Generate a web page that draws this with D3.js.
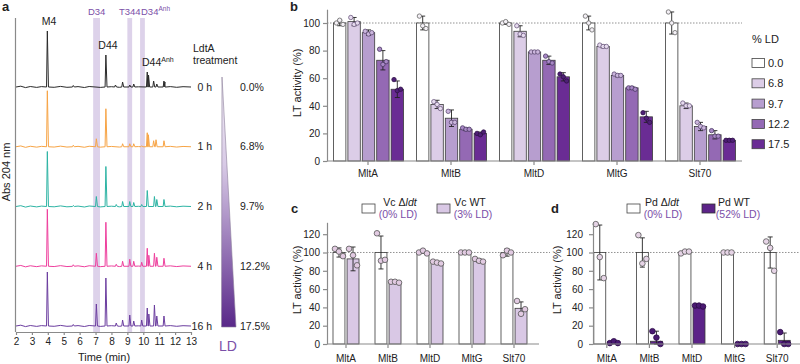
<!DOCTYPE html>
<html>
<head>
<meta charset="utf-8">
<script src="https://cdn.jsdelivr.net/npm/d3@7"></script>
<style>
body { margin: 0; background: #fff; }
svg { font-family: "Liberation Sans", Arial, sans-serif; }
</style>
</head>
<body>
<svg id="fig" width="800" height="364"></svg>
<script>
// ---------- panel a : chromatograms ----------
const traceNames = ['0 h', '1 h', '2 h', '4 h', '16 h'];
const traceLD = ['0.0%', '6.8%', '9.7%', '12.2%', '17.5%'];
const traceColors = ['#2a2a2a', '#f7a445', '#2db4a4', '#ee3f9d', '#6b3d9f'];
const timeTicks = [2, 3, 4, 5, 6, 7, 8, 9, 10, 11, 12, 13];
// peaks per trace : [retention time (min), height]
const peaks0h = [[3.97, 56], [5.6, 1.5], [7.65, 32], [8.25, 2], [8.7, 5], [9.15, 2], [9.4, 3], [10.25, 15], [10.33, 12], [10.65, 6], [10.85, 3], [11.3, 6], [11.36, 5]];
const peaks1h = [[3.97, 56], [5.6, 1.5], [7.05, 8], [7.65, 38], [8.7, 3], [9.15, 3], [9.4, 3], [9.9, 1], [10.25, 14], [10.32, 12], [10.65, 6], [10.8, 7], [11.3, 6]];
const peaks2h = [[3.97, 55], [5.6, 1], [7.05, 10], [7.65, 40], [8.3, 2], [8.7, 5], [9.15, 5], [9.4, 4], [9.9, 2], [10.25, 16], [10.7, 10], [10.85, 7], [11.3, 7]];
const peaks4h = [[3.97, 57], [5.6, 1.5], [7.05, 13], [7.65, 44], [8.3, 2], [8.7, 5], [9.15, 7], [9.4, 5], [9.9, 4], [10.25, 18], [10.35, 11], [10.7, 13], [10.85, 9], [11.3, 8]];
const peaks16h = [[3.97, 54], [5.6, 1.5], [7.05, 22], [7.65, 48], [8.3, 3], [8.7, 6], [9.15, 11], [9.4, 5], [9.9, 6], [10.25, 18], [10.35, 12], [10.7, 21], [10.85, 10], [11.3, 10]];
const tracePeaks = [peaks0h, peaks1h, peaks2h, peaks4h, peaks16h];
const baselineNoise = [[2, 0], [2.3, 0.8], [2.6, -0.6], [2.9, 0.5], [3.3, -0.4], [3.6, 0.4], [4.4, -0.3], [4.8, 0.6], [5.2, -0.3], [5.9, 0.4], [6.3, -0.5], [6.6, 0.5], [7.3, -0.4], [8.0, 0.3], [8.5, -0.3], [9.7, 0.2], [11.7, 0.4], [12.1, -0.3], [12.5, 0.3], [13, 0]];
const bandNames = ['D34', 'T344', 'D34'];
const bandRanges = [[6.85, 7.28], [9.0, 9.3], [9.8, 10.1]];

// ---------- panel b ----------
const enzymes = ['MltA', 'MltB', 'MltD', 'MltG', 'Slt70'];
const ldLevels = ['0.0', '6.8', '9.7', '12.2', '17.5'];
const ldColors = ['#ffffff', '#dccde7', '#b79ecf', '#9469b4', '#6a2c94'];
const ltMeans = [[100, 101, 93, 73, 52], [100, 41, 31, 23, 20], [100, 94, 79, 73, 61], [100, 83, 62, 53, 32], [100, 40, 25, 19, 15]];
const ltSD = [[2, 3, 2, 7, 6], [5, 3, 6, 1, 1], [1, 4, 1, 3, 3], [5, 1, 1, 1, 4], [8, 2, 3, 3, 1]];
const ltReps = [
	[[100, 102, 99], [104, 99, 100], [94, 92, 93], [81, 70, 72], [59, 51, 52]],
	[[105, 98, 96], [43, 41, 38], [36, 28, 28], [24, 23, 23], [20, 19, 21]],
	[[100, 101, 99], [98, 92, 91], [79, 79, 79], [76, 72, 71], [63, 61, 58]],
	[[105, 100, 95], [84, 83, 83], [63, 62, 62], [53, 53, 52], [35, 31, 28]],
	[[108, 100, 93], [42, 40, 40], [28, 25, 24], [22, 18, 18], [15, 15, 15]]
];

// ---------- panel c ----------
const vcSeries = ['Vc Δldt', 'Vc WT'];
const vcMeans = [[100, 93], [100, 68], [100, 89], [100, 91], [100, 39]];
const vcSD = [[5, 13], [18, 1], [1, 1], [1, 2], [4, 7]];
const vcReps = [
	[[104, 101, 96], [104, 97, 86]], [[121, 91, 92], [68, 68, 67]], [[100, 102, 99], [90, 89, 88]],
	[[100, 100, 100], [93, 91, 90]], [[97, 102, 100], [47, 33, 38]]
];

// ---------- panel d ----------
const pdSeries = ['Pd Δldt', 'Pd WT'];
const pdMeans = [[100, 2], [100, 3], [100, 41], [100, 0], [100, 4]];
const pdSD = [[30, 1], [16, 11], [1, 1], [0, 0], [17, 8]];
const pdReps = [
	[[131, 95, 72], [1, 3, 1]], [[119, 88, 93], [14, 7, 0]], [[99, 101, 101], [42, 42, 41]],
	[[100, 100, 100], [0, 0, 0]], [[112, 105, 80], [13, 0, 0]]
];
const yTicks = [0, 20, 40, 60, 80, 100];
const yTicksCD = [0, 20, 40, 60, 80, 100, 120];

const svg = d3.select('#fig');
const axisGray = '#8a8a8a';
const purpleText = '#7b4fa8';

function styleAxis(g) {
	g.selectAll('path, line').attr('stroke', axisGray).attr('stroke-width', 1.2);
	g.selectAll('text').attr('fill', '#222').attr('font-size', 10).attr('font-family', '"Liberation Sans", Arial, sans-serif');
}

function label(x, y, txt, opts = {}) {
	return svg.append('text').attr('x', x).attr('y', y).text(txt)
		.attr('font-size', opts.size || 10.5).attr('fill', opts.fill || '#222')
		.attr('text-anchor', opts.anchor || 'start').attr('font-weight', opts.weight || 'normal');
}

// ================= panel a =================
const xA = d3.scaleLinear().domain([2, 13]).range([16, 191]);
const baseA = d3.scalePoint().domain(traceNames).range([87, 326]);
const hA = d3.scaleLinear().domain([0, 60]).range([0, 60]);

let gA = svg.append('g');
gA.selectAll('rect.band').data(bandRanges).enter().append('rect').attr('class', 'band')
	.attr('x', d => xA(d[0])).attr('width', d => xA(d[1]) - xA(d[0]))
	.attr('y', 18).attr('height', 314).attr('fill', '#ddd2ea');

function buildTrace(pk) {
	let pts = baselineNoise.filter(b => !pk.some(p => Math.abs(b[0] - p[0]) < 0.1));
	pk.forEach(p => {
		pts.push([p[0] - 0.05, 0], [p[0], p[1]], [p[0] + 0.07, 0]);
	});
	return pts.sort((a, b) => a[0] - b[0]);
}

const lineA = d3.line().x(d => xA(d[0])).y(d => d[1]);
tracePeaks.forEach((pk, i) => {
	let b = baseA(traceNames[i]);
	let pts = buildTrace(pk).map(p => [p[0], b - hA(p[1])]);
	gA.append('path').attr('d', lineA(pts)).attr('fill', 'none')
		.attr('stroke', traceColors[i]).attr('stroke-width', 1).attr('stroke-linejoin', 'round');
	label(212, b + 3.5, traceNames[i], { anchor: 'end', size: 10.5 });
	label(240, b + 3.5, traceLD[i], { size: 10.5 });
});

// left line + time axis
gA.append('line').attr('x1', 15.5).attr('x2', 15.5).attr('y1', 18).attr('y2', 332)
	.attr('stroke', axisGray).attr('stroke-width', 1.2);
let axA = gA.append('g').attr('transform', 'translate(0,332)')
	.call(d3.axisBottom(xA).tickValues(timeTicks).tickFormat(d3.format('d')).tickSize(3).tickSizeOuter(0));
styleAxis(axA);
label(104, 361, 'Time (min)', { anchor: 'middle', size: 11 });
svg.append('text').attr('transform', 'translate(10,172) rotate(-90)').attr('text-anchor', 'middle')
	.attr('font-size', 11).attr('fill', '#222').text('Abs 204 nm');

// band + peak labels
label(xA(7.07), 15, 'D34', { anchor: 'middle', fill: purpleText, size: 9.5 });
label(xA(9.15), 15, 'T344', { anchor: 'middle', fill: purpleText, size: 9.5 });
let anh = label(141, 15, 'D34', { fill: purpleText, size: 9.5 });
anh.append('tspan').attr('font-size', 6.5).attr('dy', -4).text('Anh');
label(49, 25, 'M4', { anchor: 'middle' });
label(108, 49, 'D44', { anchor: 'middle' });
let d44a = label(142, 66, 'D44');
d44a.append('tspan').attr('font-size', 7).attr('dy', -4).text('Anh');
label(193, 52, 'LdtA');
label(193, 64, 'treatment');
label(2, 11, 'a', { size: 13, weight: 'bold' });

// LD wedge
let grad = svg.append('defs').append('linearGradient').attr('id', 'ldGrad')
	.attr('x1', 0).attr('y1', 0).attr('x2', 0).attr('y2', 1);
grad.append('stop').attr('offset', '0%').attr('stop-color', '#f2eef5');
grad.append('stop').attr('offset', '35%').attr('stop-color', '#d8cae6');
grad.append('stop').attr('offset', '100%').attr('stop-color', '#592889');
svg.append('polygon').attr('points', '222,77 221.5,327 236,327')
	.attr('fill', 'url(#ldGrad)').attr('stroke', '#8c7d9a').attr('stroke-width', 0.6);
label(228, 351, 'LD', { anchor: 'middle', size: 14, fill: purpleText });

// ================= bar panels =================
function barPanel(o) {
	let g = svg.append('g');
	let x = d3.scaleBand().domain(enzymes).range(o.xRange);
	let sub = d3.scaleBand().domain(o.series).range(o.subRange).paddingInner(o.subPad);
	let y = d3.scaleLinear().domain([0, o.yMax]).range([o.yBase, o.yTop]);

	// reference line at 100
	g.append('line').attr('x1', o.refX[0]).attr('x2', o.refX[1]).attr('y1', y(100)).attr('y2', y(100))
		.attr('stroke', '#777').attr('stroke-width', 0.8).attr('stroke-dasharray', '1.5,1.5');

	enzymes.forEach((e, i) => {
		let cx = x(e) + x.bandwidth() / 2;
		o.series.forEach((s, j) => {
			let m = o.means[i][j], sd = o.sds[i][j];
			let bx = cx + sub(s), bw = sub.bandwidth();
			g.append('rect').attr('x', bx).attr('y', y(m)).attr('width', bw).attr('height', y(0) - y(m))
				.attr('fill', o.colors[j]).attr('stroke', '#3a3a3a').attr('stroke-width', 0.8);
			let mx = bx + bw / 2;
			g.append('line').attr('x1', mx).attr('x2', mx).attr('y1', y(Math.max(0, m - sd))).attr('y2', y(m + sd))
				.attr('stroke', '#222').attr('stroke-width', 0.9);
			[m + sd, Math.max(0, m - sd)].forEach(v => {
				g.append('line').attr('x1', mx - 2.5).attr('x2', mx + 2.5).attr('y1', y(v)).attr('y2', y(v))
					.attr('stroke', '#222').attr('stroke-width', 0.9);
			});
			o.reps[i][j].forEach((v, k) => {
				g.append('circle').attr('cx', mx + (k - 1) * o.jitter).attr('cy', y(v)).attr('r', o.r)
					.attr('fill', o.pointFill[j]).attr('stroke', o.pointStroke[j]).attr('stroke-width', 0.8);
			});
		});
	});

	let ay = g.append('g').attr('transform', `translate(${o.axisX},0)`)
		.call(d3.axisLeft(y).tickValues(o.ticks).tickSize(4).tickPadding(o.tickPad).tickSizeOuter(0));
	styleAxis(ay);
	g.append('line').attr('x1', o.axisX).attr('x2', o.xEnd).attr('y1', o.yBase).attr('y2', o.yBase)
		.attr('stroke', axisGray).attr('stroke-width', 1.2);
	let ax = g.append('g').attr('transform', `translate(0,${o.yBase})`)
		.call(d3.axisBottom(x).tickSize(4).tickPadding(o.catPad).tickSizeOuter(0));
	ax.select('.domain').remove();
	styleAxis(ax);
	svg.append('text').attr('transform', `translate(${o.titleX},${o.titleY}) rotate(-90)`)
		.attr('text-anchor', 'middle').attr('font-size', 11).attr('fill', '#222').text('LT activity (%)');
	return g;
}

// b
barPanel({
	xRange: [326.5, 741.5], subRange: [-34.5, 35.5], subPad: 0.14, series: ldLevels,
	yMax: 110, yBase: 161, yTop: 9.2, axisX: 327, xEnd: 742, refX: [327, 742],
	means: ltMeans, sds: ltSD, reps: ltReps, colors: ldColors, ticks: yTicks, tickPad: 3, catPad: 5,
	pointFill: ['#f4f0f6', '#e6dbee', '#cbb6dd', '#a888c6', '#4e1f75'],
	pointStroke: ['#666', '#6d5a80', '#5d4a72', '#4a3862', '#2e1048'], r: 2.2, jitter: 3.3,
	titleX: 301, titleY: 83
});
label(290, 11, 'b', { size: 13, weight: 'bold' });
label(752, 43, '% LD', { size: 11 });
ldLevels.forEach((l, i) => {
	let cy = 63 + i * 20.3;
	svg.append('rect').attr('x', 752).attr('y', cy - 4.5).attr('width', 12.5).attr('height', 9)
		.attr('fill', ldColors[i]).attr('stroke', '#444').attr('stroke-width', 0.8);
	label(768, cy + 4, l, { size: 11 });
});

// c
barPanel({
	xRange: [325, 535], subRange: [-13, 13], subPad: 0.15, series: vcSeries,
	yMax: 133, yBase: 344, yTop: 222.3, axisX: 327, xEnd: 539, refX: [327, 550],
	means: vcMeans, sds: vcSD, reps: vcReps, colors: ['#ffffff', '#d9c8e5'], ticks: yTicksCD, tickPad: 3, catPad: 7,
	pointFill: ['#e2cbe2', '#e2cbe2'], pointStroke: ['#555', '#555'], r: 2.8, jitter: 4,
	titleX: 301, titleY: 280
});
label(291, 213, 'c', { size: 13, weight: 'bold' });
svg.append('rect').attr('x', 362).attr('y', 204).attr('width', 13).attr('height', 9)
	.attr('fill', '#fff').attr('stroke', '#444').attr('stroke-width', 0.8);
let vc1 = label(400, 206, 'Vc Δ', { anchor: 'middle', size: 10.5 });
vc1.append('tspan').attr('font-style', 'italic').text('ldt');
label(398, 218, '(0% LD)', { anchor: 'middle', size: 10.5, fill: purpleText });
svg.append('rect').attr('x', 437).attr('y', 204).attr('width', 13).attr('height', 9)
	.attr('fill', '#d9c8e5').attr('stroke', '#444').attr('stroke-width', 0.8);
label(470, 206, 'Vc WT', { anchor: 'middle', size: 10.5 });
label(473, 218, '(3% LD)', { anchor: 'middle', size: 10.5, fill: purpleText });

// d
barPanel({
	xRange: [585.5, 798.5], subRange: [-13, 13], subPad: 0.15, series: pdSeries,
	yMax: 133, yBase: 344, yTop: 222.3, axisX: 593, xEnd: 800, refX: [593, 800],
	means: pdMeans, sds: pdSD, reps: pdReps, colors: ['#ffffff', '#5c2388'], ticks: yTicksCD, tickPad: 6, catPad: 7,
	pointFill: ['#e6d4e6', '#4a1a72'], pointStroke: ['#555', '#2c0b48'], r: 2.8, jitter: 4,
	titleX: 561, titleY: 280
});
label(551, 213, 'd', { size: 13, weight: 'bold' });
svg.append('rect').attr('x', 627).attr('y', 204).attr('width', 13).attr('height', 9)
	.attr('fill', '#fff').attr('stroke', '#444').attr('stroke-width', 0.8);
let pd1 = label(662, 206, 'Pd Δ', { anchor: 'middle', size: 10.5 });
pd1.append('tspan').attr('font-style', 'italic').text('ldt');
label(663, 218, '(0% LD)', { anchor: 'middle', size: 10.5, fill: purpleText });
svg.append('rect').attr('x', 702).attr('y', 204).attr('width', 13).attr('height', 9)
	.attr('fill', '#5c2388').attr('stroke', '#333').attr('stroke-width', 0.8);
label(734, 206, 'Pd WT', { anchor: 'middle', size: 10.5 });
label(738, 218, '(52% LD)', { anchor: 'middle', size: 10.5, fill: purpleText });
</script>
</body>
</html>
